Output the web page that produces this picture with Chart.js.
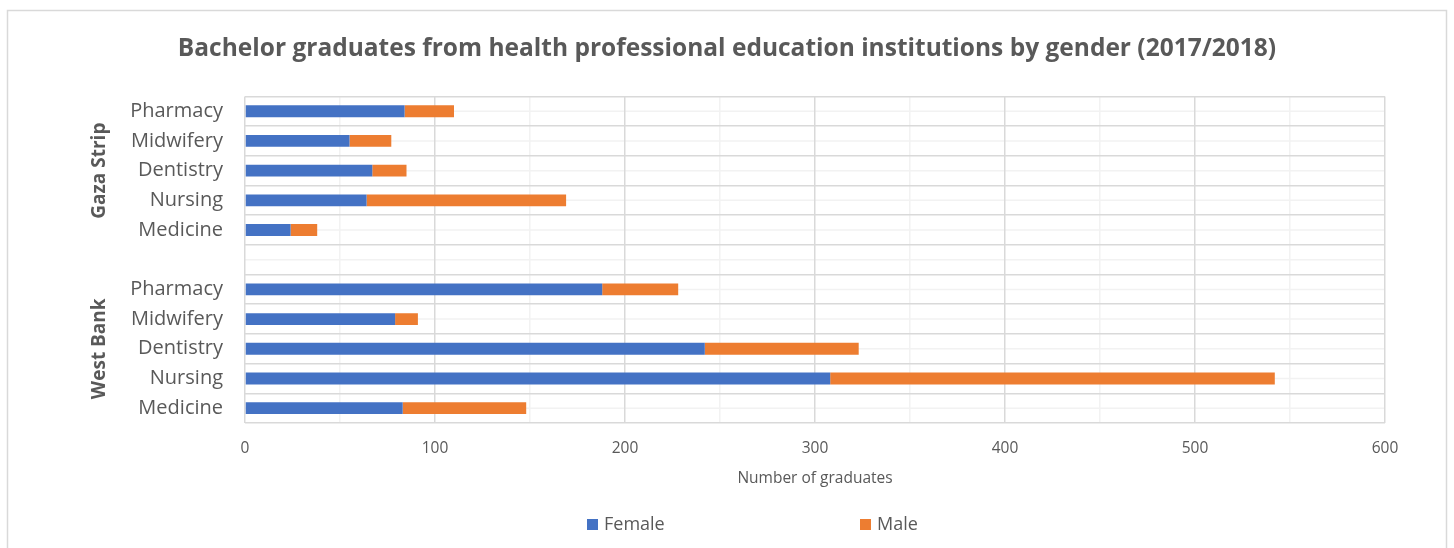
<!DOCTYPE html>
<html>
<head>
<meta charset="utf-8">
<script src="https://cdn.jsdelivr.net/npm/chart.js@4/dist/chart.umd.min.js"></script>
<style>
  html, body { margin: 0; padding: 0; background: #fff; }
  #wrap { width: 1454px; height: 548px; }
</style>
</head>
<body>
<div id="wrap"><canvas id="grafico" width="1454" height="548"></canvas></div>
<script>
// datos del gráfico
const regiones = ['Gaza Strip', 'West Bank'];
const carreras = ['Pharmacy', 'Midwifery', 'Dentistry', 'Nursing', 'Medicine'];
const gazaFemale = [84, 55, 67, 64, 24];
const gazaMale = [26, 22, 18, 105, 14];
const westFemale = [188, 79, 242, 308, 83];
const westMale = [40, 12, 81, 234, 65];
const ejeX = { min: 0, max: 600, paso: 100 };

// etiquetas con una fila vacía entre las dos regiones
const etiquetas = [...carreras, '', ...carreras];
const female = [...gazaFemale, null, ...westFemale];
const male = [...gazaMale, null, ...westMale];

const gris = '#595959';
const fuente = '"Open Sans", "DejaVu Sans", sans-serif';

// fondo, borde exterior y líneas menores horizontales
const fondoPlugin = {
    id: 'fondo',
    beforeDraw(chart) {
        const ctx = chart.ctx;
        const area = chart.chartArea;
        const y = chart.scales.y;
        ctx.save();
        ctx.fillStyle = '#fff';
        ctx.fillRect(0, 0, chart.width, chart.height);
        ctx.strokeStyle = '#D9D9D9';
        ctx.lineWidth = 1.5;
        ctx.strokeRect(7.5, 10.5, chart.width - 15, chart.height + 20);
        ctx.strokeStyle = '#F2F2F2';
        ctx.lineWidth = 1.5;
        etiquetas.forEach((_, i) => {
            const py = y.getPixelForValue(i);
            ctx.beginPath();
            ctx.moveTo(area.left, py);
            ctx.lineTo(area.right, py);
            ctx.stroke();
        });
        ctx.restore();
    }
};

// nombres de región girados y leyenda separada
const extrasPlugin = {
    id: 'extras',
    afterDraw(chart) {
        const ctx = chart.ctx;
        const y = chart.scales.y;
        const area = chart.chartArea;
        ctx.save();
        ctx.fillStyle = gris;
        ctx.font = 'bold 19px ' + fuente;
        ctx.textAlign = 'center';
        ctx.textBaseline = 'middle';
        regiones.forEach((region, r) => {
            const inicio = r * (carreras.length + 1);
            const y0 = y.getPixelForValue(inicio);
            const y1 = y.getPixelForValue(inicio + carreras.length - 1);
            ctx.save();
            ctx.translate(100, (y0 + y1) / 2);
            ctx.rotate(-Math.PI / 2);
            ctx.fillText(region, 0, 0);
            ctx.restore();
        });

        // leyenda
        const posiciones = [area.left + 342, area.left + 615];
        ctx.font = '18px ' + fuente;
        ctx.textAlign = 'left';
        chart.data.datasets.forEach((ds, i) => {
            const x = posiciones[i];
            ctx.fillStyle = ds.backgroundColor;
            ctx.fillRect(x, 519, 11, 11);
            ctx.fillStyle = gris;
            ctx.fillText(ds.label, x + 17, 525);
        });
        ctx.restore();
    }
};

const ctx = document.getElementById('grafico').getContext('2d');
const grafico = new Chart(ctx, {
    type: 'bar',
    data: {
        labels: etiquetas,
        datasets: [
            { label: 'Female', data: female, backgroundColor: '#4472C4' },
            { label: 'Male', data: male, backgroundColor: '#ED7D31' }
        ]
    },
    options: {
        indexAxis: 'y',
        responsive: false,
        animation: false,
        barPercentage: 0.4,
        categoryPercentage: 1,
        layout: { padding: { top: 0, left: 69, right: 69, bottom: 60 } },
        plugins: {
            legend: { display: false },
            tooltip: { enabled: false },
            title: {
                display: true,
                text: 'Bachelor graduates from health professional education institutions by gender (2017/2018)',
                color: gris,
                font: { family: fuente, size: 24.5, weight: 'bold' },
                padding: { top: 34, bottom: 33 }
            }
        },
        scales: {
            x: {
                stacked: true,
                min: ejeX.min,
                max: ejeX.max,
                afterFit(scale) { scale.height = 65; },
                ticks: {
                    stepSize: ejeX.paso / 2,
                    color: gris,
                    font: { family: fuente, size: 15.5 },
                    padding: 16,
                    callback: v => (v % ejeX.paso === 0 ? v : '')
                },
                grid: {
                    drawTicks: false,
                    color: c => (c.tick && c.tick.value % ejeX.paso === 0 ? '#D9D9D9' : '#F2F2F2'),
                    lineWidth: 1.5
                },
                border: { display: false },
                title: {
                    display: true,
                    text: 'Number of graduates',
                    color: gris,
                    font: { family: fuente, size: 15.5 },
                    padding: { top: 8, bottom: 0 }
                }
            },
            y: {
                stacked: true,
                afterFit(scale) { scale.width = 245 - 69; },
                ticks: {
                    color: gris,
                    font: { family: fuente, size: 20 },
                    padding: 22
                },
                grid: {
                    offset: true,
                    drawTicks: false,
                    color: '#D9D9D9',
                    lineWidth: 1.5
                },
                border: { display: false }
            }
        }
    },
    plugins: [fondoPlugin, extrasPlugin]
});
</script>
</body>
</html>
